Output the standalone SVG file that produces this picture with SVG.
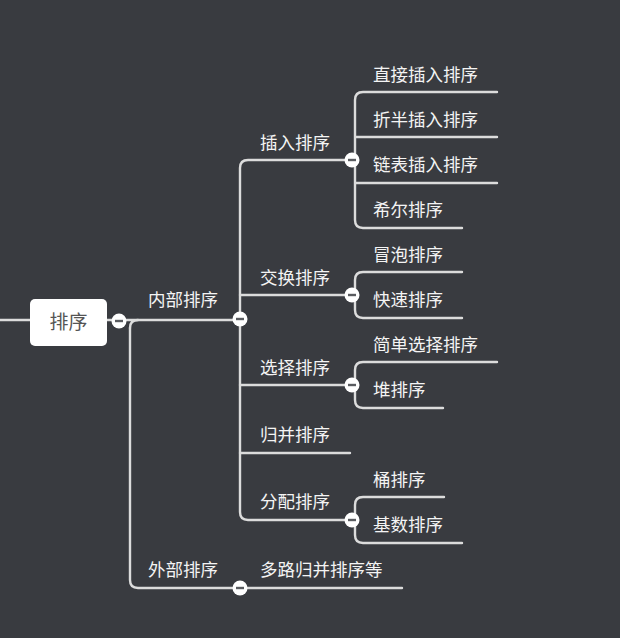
<svg xmlns="http://www.w3.org/2000/svg" width="620" height="638" viewBox="0 0 620 638">
<style>
.c{fill:none;stroke:#dcdcdc;stroke-width:2.4;stroke-linecap:round}
.t{font-family:"Noto Sans CJK SC","Noto Sans",sans-serif;font-size:17.5px;fill:#f4f4f4}
</style>
<defs>
<g id="tog"><circle r="7.5" fill="#ffffff"/><line x1="-4" y1="0" x2="4" y2="0" stroke="#5a5c60" stroke-width="2.4"/></g>
</defs>
<rect width="620" height="638" fill="#393b40"/>
<g id="connectors">
<path class="c" d="M0,320 H30"/>
<path class="c" d="M107,320 H240"/>
<path class="c" d="M130,328 V580 Q130,588 138,588 H402"/>
<path class="c" d="M130,328 Q130,320 138,320"/>
<path class="c" d="M352,160 H248 Q240,160 240,168 V512 Q240,520 248,520 H352"/>
<path class="c" d="M240,295 H352 M240,385 H352 M240,453 H350"/>
<path class="c" d="M497,92 H363 Q355,92 355,100 V220 Q355,228 363,228 H462 M355,137 H497 M355,183 H497"/>
<path class="c" d="M462,272 H363 Q355,272 355,280 V310 Q355,318 363,318 H462"/>
<path class="c" d="M497,362 H363 Q355,362 355,370 V400 Q355,408 363,408 H443"/>
<path class="c" d="M444,497 H363 Q355,497 355,505 V535 Q355,543 363,543 H462"/>
<use href="#tog" x="119" y="321"/>
<use href="#tog" x="240" y="319"/>
<use href="#tog" x="240" y="588"/>
<use href="#tog" x="352" y="160"/>
<use href="#tog" x="352" y="295"/>
<use href="#tog" x="352" y="385"/>
<use href="#tog" x="352" y="520"/>
</g>
<g id="root">
<rect x="30" y="299" width="77" height="47" rx="5" fill="#ffffff"/>
<text x="68.5" y="329" text-anchor="middle" font-family="Noto Sans CJK SC,Noto Sans,sans-serif" font-size="19" fill="#555555">排序</text>
</g>
<g id="n-internal"><text class="t" x="148" y="306">内部排序</text></g>
<g id="n-external"><text class="t" x="148" y="576">外部排序</text></g>
<g id="n-multiway"><text class="t" x="260" y="576">多路归并排序等</text></g>
<g id="n-insert"><text class="t" x="260" y="149">插入排序</text></g>
<g id="n-exchange"><text class="t" x="260" y="284">交换排序</text></g>
<g id="n-select"><text class="t" x="260" y="374">选择排序</text></g>
<g id="n-merge"><text class="t" x="260" y="441">归并排序</text></g>
<g id="n-dist"><text class="t" x="260" y="508">分配排序</text></g>
<g id="n-direct"><text class="t" x="373" y="81">直接插入排序</text></g>
<g id="n-binary"><text class="t" x="373" y="126">折半插入排序</text></g>
<g id="n-linked"><text class="t" x="373" y="171">链表插入排序</text></g>
<g id="n-shell"><text class="t" x="373" y="216">希尔排序</text></g>
<g id="n-bubble"><text class="t" x="373" y="261">冒泡排序</text></g>
<g id="n-quick"><text class="t" x="373" y="306">快速排序</text></g>
<g id="n-simple"><text class="t" x="373" y="351">简单选择排序</text></g>
<g id="n-heap"><text class="t" x="373" y="396">堆排序</text></g>
<g id="n-bucket"><text class="t" x="373" y="486">桶排序</text></g>
<g id="n-radix"><text class="t" x="373" y="531">基数排序</text></g>
</svg>
